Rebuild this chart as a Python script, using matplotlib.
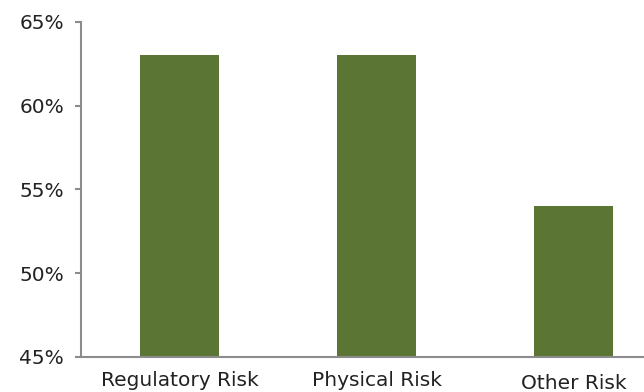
import matplotlib.pyplot as plt
from matplotlib.ticker import FuncFormatter
from matplotlib.transforms import ScaledTranslation

plt.rcParams['font.family'] = ['DejaVu Sans']

categories = ['Regulatory Risk', 'Physical Risk', 'Other Risk']
shares = [63, 63, 54]
y_ticks = [45, 50, 55, 60, 65]

fig = plt.figure(figsize=(6.44, 3.92), dpi=100)
ax = fig.add_axes([0.1258, 0.0893, 0.918, 0.8546])

ax.bar(range(len(categories)), shares, width=0.40, color='#5b7535')
ax.set_xlim(-0.5, len(categories) - 0.5)
ax.set_ylim(45, 65)
ax.set_yticks(y_ticks)
ax.yaxis.set_major_formatter(FuncFormatter(lambda v, _: f'{v:.0f}%'))
ax.set_xticks(range(len(categories)))
ax.set_xticklabels(categories)

for side in ['top', 'right']:
    ax.spines[side].set_visible(False)
for side in ['left', 'bottom']:
    ax.spines[side].set_color('#8c8c8c')
    ax.spines[side].set_linewidth(1.5)

ax.tick_params(axis='y', length=4.3, width=1.5, color='#8c8c8c', labelsize=14.5,
               labelcolor='#222222', pad=8)
ax.tick_params(axis='x', length=0, labelsize=14.5, labelcolor='#222222', pad=10)

# last label sits a little lower
last = ax.get_xticklabels()[-1]
last.set_transform(last.get_transform() + ScaledTranslation(0, -3 / 100, fig.dpi_scale_trans))

fig.savefig('out.png', dpi=100)
